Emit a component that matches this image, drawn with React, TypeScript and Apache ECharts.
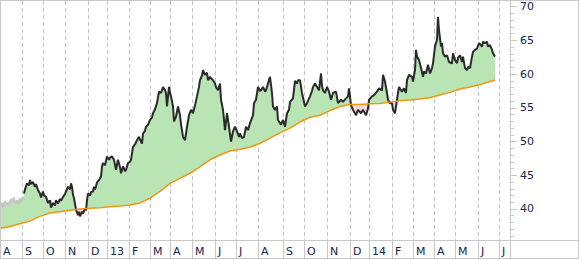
import { useEffect, useRef } from 'react';
import * as echarts from 'echarts';

// Month starts (trading-day index along the x axis) and their labels
const monthTicks = [0, 22, 43, 65, 88, 107, 129, 150, 170, 192, 215, 236, 258, 283, 304, 327, 350, 369, 392, 413, 434, 455, 478, 499];
const monthLabels = ['A', 'S', 'O', 'N', 'D', '13', 'F', 'M', 'A', 'M', 'J', 'J', 'A', 'S', 'O', 'N', 'D', '14', 'F', 'M', 'A', 'M', 'J', 'J'];

// Y axis ticks
const yLabelTicks = [40, 45, 50, 55, 60, 65, 70];
const yMinorTicks = [36, 37, 38, 39, 41, 42, 43, 44, 46, 47, 48, 49, 51, 52, 53, 54, 56, 57, 58, 59, 61, 62, 63, 64, 66, 67, 68, 69];

// Early prices (before the moving average window, drawn in gray)
const warmupDays = [0, 2, 3, 5, 6, 8, 9, 11, 12, 14, 15, 17, 18, 20, 21, 23, 24];
const warmupPrices = [40.4, 40.9, 40.3, 41.2, 40.6, 41.0, 40.5, 41.5, 41.0, 41.7, 40.8, 41.3, 40.7, 41.6, 41.0, 41.8, 41.3];

// Daily close (black)
const priceDays = [
  24, 25, 27, 29, 30, 31, 33, 35, 36, 38, 40, 41, 43, 44, 46, 48, 50, 51, 53, 55,
  56, 58, 60, 61, 63, 65, 66, 68, 70, 71, 72, 73, 74, 76, 78, 79, 80, 82, 83, 85,
  86, 87, 88, 90, 91, 93, 94, 95, 97, 99, 101, 102, 103, 105, 107, 109, 110, 112, 114, 116,
  117, 118, 120, 121, 123, 125, 126, 128, 130, 131, 133, 135, 137, 139, 140, 142, 143, 145, 146, 148,
  150, 152, 153, 155, 157, 158, 159, 161, 163, 165, 166, 167, 169, 170, 171, 173, 174, 176, 178, 180,
  181, 183, 185, 187, 189, 191, 193, 195, 197, 199, 200, 202, 203, 205, 207, 208, 210, 211, 213, 215,
  216, 218, 220, 221, 223, 225, 227, 229, 231, 233, 235, 237, 239, 240, 242, 244, 246, 248, 250, 252,
  253, 254, 256, 258, 260, 261, 263, 265, 266, 268, 270, 272, 273, 275, 277, 278, 281, 283, 285, 287,
  289, 290, 292, 293, 295, 297, 298, 300, 302, 305, 307, 310, 312, 313, 315, 317, 319, 321, 322, 323,
  325, 327, 329, 331, 333, 336, 338, 341, 343, 346, 348, 349, 351, 353, 356, 358, 361, 363, 366, 368,
  369, 372, 374, 377, 379, 382, 383, 385, 387, 388, 390, 392, 393, 395, 397, 398, 399, 402, 404, 406,
  407, 409, 412, 413, 415, 416, 417, 419, 421, 423, 424, 426, 428, 430, 432, 433, 435, 437, 438, 439,
  441, 442, 443, 445, 447, 449, 452, 453, 455, 457, 458, 460, 462, 463, 465, 467, 468, 470, 472, 473,
  475, 477, 479, 482, 483, 485, 487, 488, 490, 492, 493, 495,
];
const priceValues = [
  42.3, 42.9, 43.8, 43.5, 44.3, 43.7, 44.0, 43.3, 43.7, 42.8, 42.3, 41.7, 42.6, 42.0, 41.8, 40.9, 41.3, 40.2, 40.9, 40.5,
  41.3, 40.8, 41.5, 41.2, 41.8, 42.2, 42.6, 43.3, 42.9, 43.8, 43.3, 42.1, 41.6, 39.9, 39.1, 39.6, 38.9, 39.6, 39.3, 40.1,
  39.8, 41.3, 42.3, 42.0, 42.5, 42.6, 43.3, 42.9, 43.9, 44.3, 44.8, 46.3, 46.8, 46.5, 47.8, 47.3, 47.6, 47.8, 47.3, 45.8,
  46.6, 47.3, 46.2, 45.3, 46.3, 45.6, 45.8, 46.8, 47.0, 47.3, 49.2, 49.6, 50.2, 50.7, 50.3, 49.7, 51.2, 51.6, 52.2, 52.5,
  53.2, 53.6, 54.2, 54.8, 55.7, 56.6, 57.4, 57.2, 58.1, 57.6, 57.2, 55.2, 58.1, 57.3, 56.7, 55.2, 53.0, 53.7, 55.2, 53.9,
  52.6, 50.7, 50.2, 52.2, 53.9, 54.7, 54.2, 55.4, 56.7, 58.1, 59.1, 59.8, 60.6, 59.9, 60.2, 59.1, 59.6, 59.4, 59.1, 58.6,
  58.1, 57.6, 58.6, 56.2, 54.7, 51.7, 54.2, 52.2, 50.0, 51.5, 52.2, 51.5, 50.7, 51.2, 50.5, 50.7, 52.2, 51.7, 52.7, 53.5,
  53.9, 55.7, 56.2, 58.1, 57.5, 57.6, 58.1, 57.4, 57.6, 58.6, 59.6, 57.2, 55.2, 54.7, 55.2, 53.2, 52.5, 53.2, 52.2, 54.2,
  54.7, 55.9, 56.2, 56.4, 59.0, 58.6, 59.1, 59.1, 57.2, 55.2, 55.7, 56.7, 57.5, 58.1, 58.6, 58.1, 57.6, 60.1, 58.2, 57.6,
  57.2, 58.1, 57.4, 56.2, 57.2, 57.4, 55.7, 56.2, 55.9, 56.4, 56.7, 57.9, 55.4, 54.7, 53.9, 54.7, 54.2, 54.7, 53.9, 54.9,
  56.2, 56.7, 56.9, 57.4, 57.9, 57.6, 59.9, 58.9, 57.2, 56.2, 55.7, 55.7, 54.7, 54.2, 56.2, 57.2, 58.1, 57.4, 57.9, 57.2,
  59.1, 59.9, 59.6, 58.9, 60.6, 63.6, 62.6, 62.1, 60.9, 59.6, 60.4, 60.1, 61.4, 60.1, 60.9, 61.6, 64.1, 65.1, 68.5, 66.5,
  64.1, 64.6, 63.1, 62.6, 62.8, 61.8, 61.6, 63.1, 62.1, 61.6, 62.4, 62.8, 61.8, 62.6, 60.9, 60.6, 61.1, 60.9, 62.6, 63.3,
  63.6, 63.8, 64.6, 64.1, 64.8, 64.6, 64.8, 64.1, 64.3, 63.6, 63.1, 62.6,
];

// Moving average (orange)
const maDays = [0, 10, 20, 30, 40, 50, 60, 70, 80, 90, 100, 110, 120, 130, 140, 150, 160, 170, 180, 190, 200, 210, 220, 230, 240, 250, 260, 270, 280, 290, 300, 310, 320, 330, 340, 350, 360, 370, 380, 390, 400, 410, 420, 430, 440, 450, 460, 470, 480, 490, 495];
const maValues = [37.1, 37.4, 37.8, 38.2, 38.9, 39.4, 39.6, 39.8, 40.0, 40.1, 40.2, 40.35, 40.45, 40.6, 40.9, 41.6, 42.6, 43.8, 44.55, 45.3, 46.3, 47.3, 48.0, 48.6, 48.85, 49.15, 49.75, 50.5, 51.3, 52.0, 52.9, 53.6, 53.9, 54.6, 55.2, 55.5, 55.5, 55.6, 55.65, 55.85, 56.05, 56.15, 56.3, 56.5, 56.9, 57.3, 57.8, 58.1, 58.45, 58.9, 59.1];

const DAY_COUNT = 511;
const GREEN = '#b9e4b4';
const PINK = '#f8d8d8';
const TEXT = '#22224a';
const BORDER = '#c8c8c8';

function maAt(x: number): number {
  if (x <= maDays[0]) return maValues[0];
  for (let j = 0; j < maDays.length - 1; j++) {
    if (x >= maDays[j] && x <= maDays[j + 1]) {
      const t = (x - maDays[j]) / (maDays[j + 1] - maDays[j]);
      return maValues[j] + t * (maValues[j + 1] - maValues[j]);
    }
  }
  return maValues[maValues.length - 1];
}

export default function App() {
  const ref = useRef<HTMLDivElement>(null);
  useEffect(() => {
    if (!ref.current) return;
    document.body.style.margin = '0';
    const chart = echarts.init(ref.current, undefined, { renderer: 'svg' });
    const days = Array.from({ length: DAY_COUNT }, (_, i) => String(i));
    const tickSet = new Set(monthTicks);
    const labelMap: Record<string, string> = {};
    monthTicks.forEach((d, i) => (labelMap[String(d)] = monthLabels[i]));
    const isTick = (i: number) => tickSet.has(i);

    const fillDays = [...warmupDays, ...priceDays];
    const fillPrices = [...warmupPrices, ...priceValues];

    const renderFill = (_params: any, api: any) => {
      const pts = fillDays.map((d, i) => {
        const p = fillPrices[i];
        const m = maAt(d);
        return { top: api.coord([d, p]), bot: api.coord([d, m]), diff: p - m };
      });
      const runs: { sign: number; top: number[][]; bot: number[][] }[] = [];
      let cur: { sign: number; top: number[][]; bot: number[][] } | null = null;
      for (let i = 0; i < pts.length; i++) {
        const s = pts[i].diff >= 0 ? 1 : -1;
        if (!cur) {
          cur = { sign: s, top: [pts[i].top], bot: [pts[i].bot] };
          continue;
        }
        if (s !== cur.sign) {
          const a = pts[i - 1];
          const b = pts[i];
          const t = a.diff / (a.diff - b.diff);
          const cx = a.top[0] + t * (b.top[0] - a.top[0]);
          const cy = a.top[1] + t * (b.top[1] - a.top[1]);
          cur.top.push([cx, cy]);
          cur.bot.push([cx, cy]);
          runs.push(cur);
          cur = { sign: s, top: [[cx, cy], b.top], bot: [[cx, cy], b.bot] };
        } else {
          cur.top.push(pts[i].top);
          cur.bot.push(pts[i].bot);
        }
      }
      if (cur) runs.push(cur);
      return {
        type: 'group',
        children: runs.map((r) => ({
          type: 'polygon',
          shape: { points: [...r.top, ...r.bot.slice().reverse()] },
          style: { fill: r.sign > 0 ? GREEN : PINK, stroke: null },
        })),
      };
    };

    chart.setOption({
      animation: false,
      grid: { left: 0, right: 70, top: 1, bottom: 20 },
      xAxis: {
        type: 'category',
        data: days,
        boundaryGap: false,
        axisLine: { show: false },
        axisTick: { show: true, interval: (i: number) => isTick(i), length: 18, lineStyle: { color: BORDER } },
        axisLabel: {
          show: true,
          interval: (i: number) => isTick(i),
          formatter: (v: string) => labelMap[v] ?? '',
          align: 'left',
          padding: [0, 0, 0, 3],
          margin: 6,
          fontSize: 11,
          fontFamily: 'DejaVu Sans',
          color: TEXT,
        },
        splitLine: { show: true, interval: (i: number) => isTick(i), lineStyle: { color: '#c4c4c4', type: [4, 3], width: 1 } },
      },
      yAxis: [
        {
          type: 'value',
          position: 'right',
          min: 35.4,
          max: 70.85,
          axisLine: { show: false },
          axisTick: { show: true, length: 7, customValues: yLabelTicks, lineStyle: { color: BORDER } },
          axisLabel: { show: true, customValues: yLabelTicks, margin: 10, fontSize: 11, fontFamily: 'DejaVu Sans', color: TEXT },
          splitLine: { show: false },
        },
        {
          type: 'value',
          position: 'right',
          min: 35.4,
          max: 70.85,
          axisLine: { show: false },
          axisTick: { show: true, length: 4, customValues: yMinorTicks, lineStyle: { color: BORDER } },
          axisLabel: { show: false },
          splitLine: { show: false },
        },
      ],
      series: [
        { type: 'custom', renderItem: renderFill, data: [[0, 50]], z: 1, silent: true },
        {
          type: 'line',
          data: warmupDays.map((d, i) => [d, warmupPrices[i]]),
          showSymbol: false,
          lineStyle: { color: '#c6c6c6', width: 2 },
          z: 3,
        },
        {
          type: 'line',
          data: priceDays.map((d, i) => [d, priceValues[i]]),
          showSymbol: false,
          lineStyle: { color: '#2a2a2a', width: 2 },
          z: 4,
        },
        {
          type: 'line',
          data: maDays.map((d, i) => [d, maValues[i]]),
          showSymbol: false,
          lineStyle: { color: '#f2960f', width: 1.5 },
          z: 5,
        },
      ],
      graphic: [
        { type: 'rect', z: 100, shape: { x: 0.5, y: 0.5, width: 578, height: 258 }, style: { fill: null, stroke: BORDER, lineWidth: 1 } },
        { type: 'line', z: 100, shape: { x1: 0, y1: 240.5, x2: 579, y2: 240.5 }, style: { stroke: BORDER, lineWidth: 1 } },
        { type: 'line', z: 100, shape: { x1: 510.5, y1: 0, x2: 510.5, y2: 259 }, style: { stroke: BORDER, lineWidth: 1 } },
      ],
    });
    return () => chart.dispose();
  }, []);
  return <div ref={ref} style={{ width: 580, height: 260, position: 'absolute', left: 0, top: 0 }} />;
}
